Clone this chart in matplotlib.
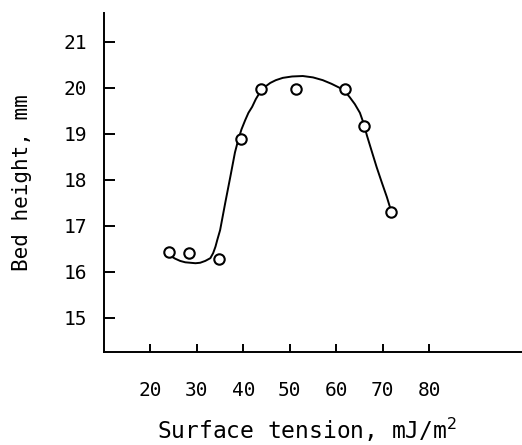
import numpy as np
import matplotlib.pyplot as plt

# measured points (open circles)
tension = [23.9, 28.2, 34.8, 39.5, 43.8, 51.3, 61.8, 65.9, 71.9]
bed_height = [16.43, 16.41, 16.28, 18.9, 19.98, 19.98, 19.98, 19.17, 17.3]

# hand-drawn trend curve
curve_x = [24.3, 25.3, 26.4, 27.5, 28.6, 29.7, 30.7, 31.8, 32.9, 33.5, 34.0, 34.4,
           35.0, 36.1, 37.2, 38.2, 38.9, 39.6, 40.4, 41.1, 41.9, 42.7, 43.6, 44.6,
           45.8, 47.0, 48.5, 50.5, 52.8, 55.0, 57.1, 59.0, 60.8, 62.0, 62.9, 64.0,
           65.1, 65.9, 66.6, 67.6, 68.7, 69.8, 70.9, 71.9]
curve_y = [16.35, 16.29, 16.24, 16.21, 16.20, 16.19, 16.20, 16.24, 16.30, 16.41,
           16.55, 16.70, 16.91, 17.50, 18.07, 18.60, 18.87, 19.10, 19.30, 19.46,
           19.59, 19.76, 19.91, 20.02, 20.11, 20.17, 20.22, 20.25, 20.26, 20.23,
           20.17, 20.09, 20.0, 19.91, 19.80, 19.65, 19.46, 19.23, 18.97, 18.64,
           18.28, 17.95, 17.63, 17.30]

x_ticks = [20, 30, 40, 50, 60, 70, 80]
y_ticks = [15, 16, 17, 18, 19, 20, 21]

font = 'DejaVu Sans Mono'

fig = plt.figure(figsize=(5.22, 4.45), dpi=100)
ax = fig.add_axes([104 / 522, 1 - 352 / 445, 418 / 522, 339 / 445])

ax.plot(curve_x, curve_y, color='black', lw=1.4)
ax.plot(tension, bed_height, 'o', mfc='white', mec='black', ms=7.5, mew=1.5)

ax.set_xlim(10, 100)
ax.set_ylim(14.26, 21.63)
ax.set_xticks(x_ticks)
ax.set_yticks(y_ticks)

for s in ['top', 'right']:
    ax.spines[s].set_visible(False)
for s in ['left', 'bottom']:
    ax.spines[s].set_linewidth(1.4)

ax.tick_params(axis='x', direction='in', length=6, width=1.4, pad=21)
ax.tick_params(axis='y', direction='in', length=8, width=1.4, pad=12)
for lab in ax.get_xticklabels() + ax.get_yticklabels():
    lab.set_fontfamily(font)
    lab.set_fontsize(14)

fig.text(307 / 522, 1 - 430 / 445, 'Surface tension, mJ/m$^2$', family=font,
         fontsize=16.5, ha='center', va='center')
fig.text(22 / 522, 1 - 183 / 445, 'Bed height, mm', family=font,
         fontsize=15, rotation=90, ha='center', va='center')

fig.savefig('out.png', dpi=100)
